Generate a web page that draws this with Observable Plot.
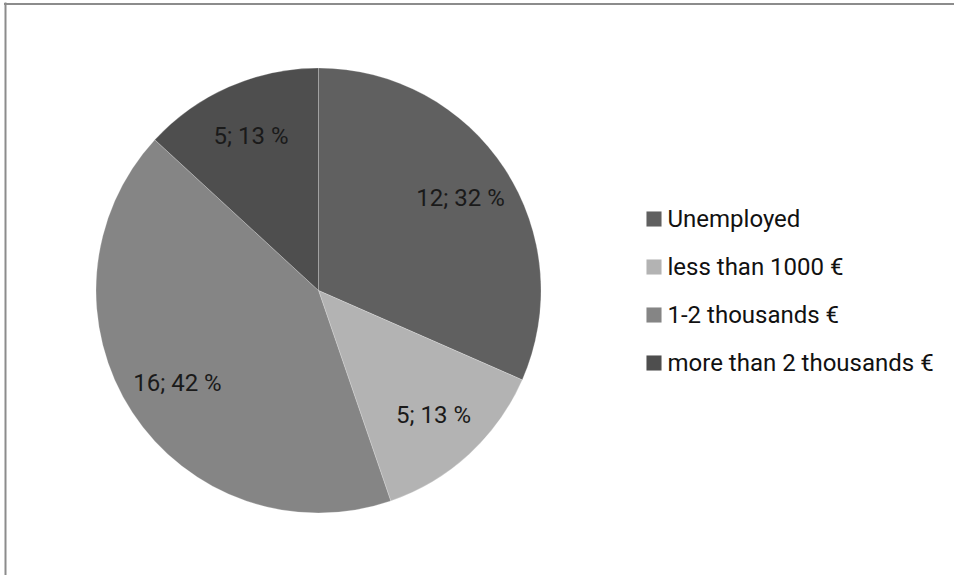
<!DOCTYPE html>
<html>
<head>
<meta charset="utf-8">
<script src="https://cdn.jsdelivr.net/npm/d3@7"></script>
<script src="https://cdn.jsdelivr.net/npm/@observablehq/plot@0.6"></script>
<style>
  html, body { margin: 0; padding: 0; background: #fff; }
  #chart { position: relative; width: 954px; height: 575px; overflow: hidden; }
  #chart svg { display: block; }
</style>
</head>
<body>
<div id="chart"></div>
<script>
const categories = ["Unemployed", "less than 1000 €", "1-2 thousands €", "more than 2 thousands €"];
const counts = [12, 5, 16, 5];
const percents = [32, 13, 42, 13];
const colors = ["#606060", "#b3b3b3", "#858585", "#4e4e4e"];

const W = 954, H = 575;
const cx = 318.5, cy = 290.5, R = 222.5;

const data = categories.map((c, i) => ({category: c, count: counts[i], pct: percents[i]}));
const arcs = d3.pie().sort(null).value(d => d.count)(data);
const labelR = 0.76 * R;
const labels = arcs.map(a => {
  const m = (a.startAngle + a.endAngle) / 2;
  return {x: cx + labelR * Math.sin(m), y: cy - labelR * Math.cos(m), text: `${a.data.count}; ${a.data.pct} %`};
});
const legendRows = categories.map((c, i) => ({category: c, row: i}));

const pieMark = (index, scales, values, dimensions) => {
  const g = d3.create("svg:g").attr("transform", `translate(${scales.x(cx)},${scales.y(cy)})`);
  const arcGen = d3.arc().innerRadius(0).outerRadius(R);
  g.selectAll("path").data(arcs).join("path")
    .attr("d", arcGen)
    .attr("fill", d => scales.color(d.data.category))
    .attr("stroke", "rgba(255,255,255,0.3)")
    .attr("stroke-width", 0.75);
  return g.node();
};

const plot = Plot.plot({
  width: W, height: H,
  margin: 0,
  x: {domain: [0, W], range: [0, W], axis: null},
  y: {domain: [0, H], range: [0, H], axis: null},
  color: {domain: categories, range: colors},
  style: {fontFamily: "Roboto, 'Liberation Sans', sans-serif", background: "#fff"},
  marks: [
    pieMark,
    Plot.text(labels, {x: "x", y: "y", text: "text", fontSize: 24, fill: "#1a1a1a"}),
    Plot.dot(legendRows, {x: () => 653.5, y: d => 218.5 + d.row * 48, symbol: "square", r: 8.5, fill: "category", stroke: "none"}),
    Plot.text(legendRows, {x: () => 667, y: d => 218.5 + d.row * 48, text: "category", textAnchor: "start", fontSize: 24, fill: "#111"}),
    // chart-area border (top and left visible)
    Plot.ruleY([3.5], {x1: 4, x2: W, stroke: "#8c8c8c", strokeWidth: 2}),
    Plot.ruleX([5], {y1: 2.5, y2: H, stroke: "#8c8c8c", strokeWidth: 2})
  ]
});
document.getElementById("chart").appendChild(plot);
</script>
</body>
</html>
